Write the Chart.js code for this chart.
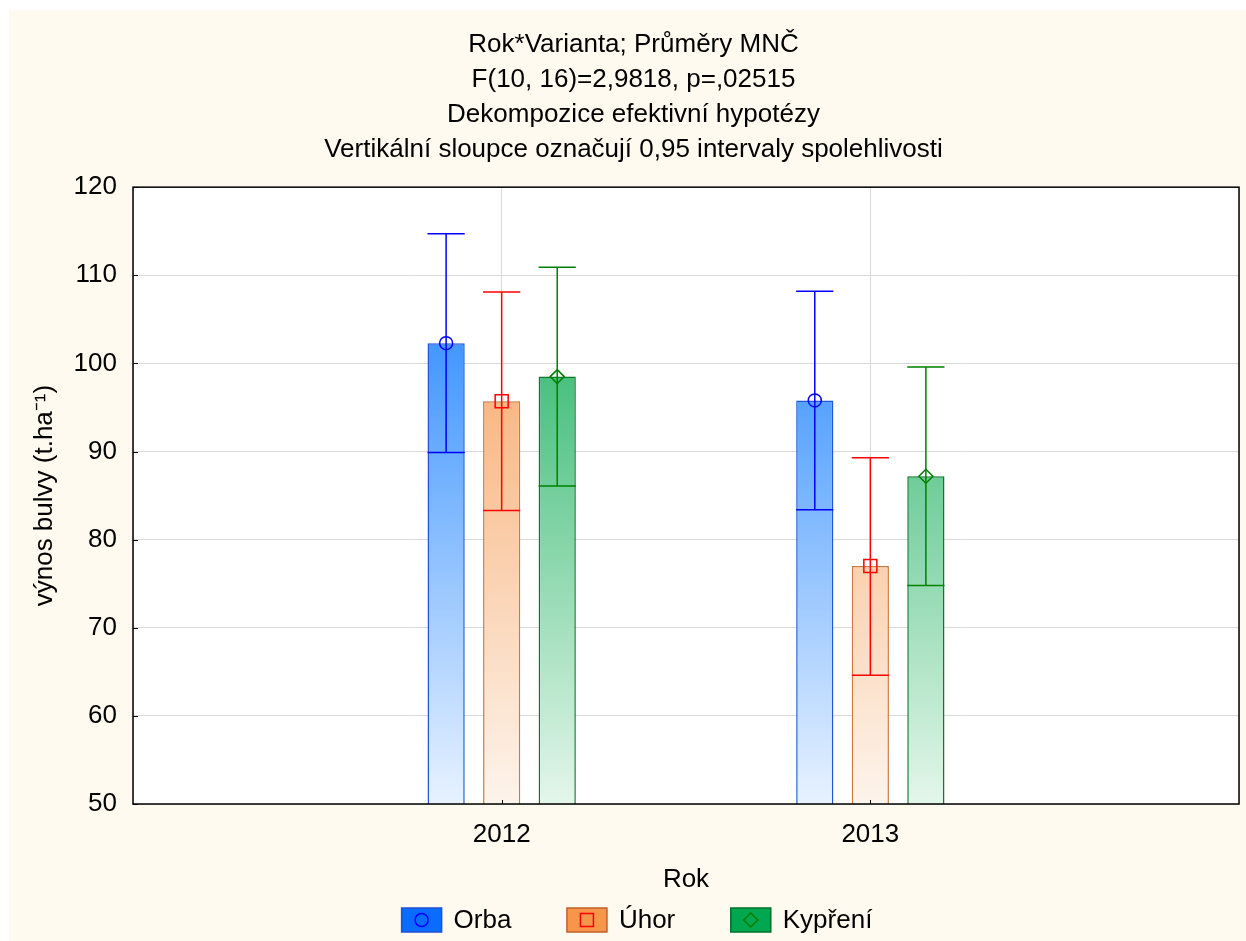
<!DOCTYPE html>
<html>
<head>
<meta charset="utf-8">
<script src="https://cdn.jsdelivr.net/npm/chart.js@4"></script>
<style>
  html, body { margin: 0; padding: 0; background: #fff; }
  #canvas1 { position: absolute; left: 9px; top: 10px; }
</style>
</head>
<body>
<canvas id="canvas1" width="1237" height="931"></canvas>
<script>
// ---------------- data ----------------
var years = ["2012", "2013"];

var orbaMean = [102.3, 95.8];
var orbaLow = [89.9, 83.4];
var orbaHigh = [114.7, 108.2];

var uhorMean = [95.7, 77.0];
var uhorLow = [83.3, 64.6];
var uhorHigh = [108.1, 89.3];

var kypMean = [98.5, 87.2];
var kypLow = [86.1, 74.8];
var kypHigh = [110.9, 99.6];

var yTicks = { min: 50, max: 120, step: 10 };

var titleLines = [
  "Rok*Varianta; Průměry MNČ",
  "F(10, 16)=2,9818, p=,02515",
  "Dekompozice efektivní hypotézy",
  "Vertikální sloupce označují 0,95 intervaly spolehlivosti",
];
// ---------------------------------------

Chart.defaults.font.family = '"Liberation Sans", Arial, sans-serif';
Chart.defaults.color = "#000";

// empty slot on each side so the two years sit at 1/3 and 2/3 of the axis
var labels = [""].concat(years, [""]);
function pad(arr) {
  return [null].concat(arr, [null]);
}

function vGrad(top, bottom) {
  return function (c) {
    var a = c.chart.chartArea;
    if (!a) return top;
    var g = c.chart.ctx.createLinearGradient(0, a.top, 0, a.bottom);
    g.addColorStop(0, top);
    g.addColorStop(1, bottom);
    return g;
  };
}

function drawMarker(ctx, style, x, y, color) {
  ctx.save();
  ctx.strokeStyle = color;
  ctx.lineWidth = 1.5;
  ctx.beginPath();
  if (style === "circle") {
    ctx.arc(x, y, 6.5, 0, Math.PI * 2);
  } else if (style === "rect") {
    ctx.rect(x - 6.5, y - 6.5, 13, 13);
  } else {
    ctx.moveTo(x, y - 7);
    ctx.lineTo(x + 7, y);
    ctx.lineTo(x, y + 7);
    ctx.lineTo(x - 7, y);
    ctx.closePath();
  }
  ctx.stroke();
  ctx.restore();
}

var background = {
  id: "background",
  beforeDraw(chart) {
    var ctx = chart.ctx, a = chart.chartArea;
    ctx.save();
    ctx.fillStyle = "#fffaf0";
    ctx.fillRect(0, 0, chart.width, chart.height);
    ctx.fillStyle = "#ffffff";
    ctx.fillRect(a.left, a.top, a.right - a.left, a.bottom - a.top);
    ctx.restore();
  },
};

var errorBars = {
  id: "errorBars",
  afterDatasetsDraw(chart) {
    var ctx = chart.ctx, yScale = chart.scales.y;
    ctx.save();
    chart.data.datasets.forEach((ds, i) => {
      chart.getDatasetMeta(i).data.forEach((bar, j) => {
        if (ds.data[j] == null) return;
        var yLo = yScale.getPixelForValue(ds.low[j]);
        var yHi = yScale.getPixelForValue(ds.high[j]);
        var half = bar.width / 2;
        ctx.strokeStyle = ds.errColor;
        ctx.lineWidth = 1.5;
        ctx.beginPath();
        ctx.moveTo(bar.x, yLo);
        ctx.lineTo(bar.x, yHi);
        ctx.moveTo(bar.x - half, yLo);
        ctx.lineTo(bar.x + half, yLo);
        ctx.moveTo(bar.x - half, yHi);
        ctx.lineTo(bar.x + half, yHi);
        ctx.stroke();
        drawMarker(ctx, ds.marker, bar.x, bar.y, ds.errColor);
      });
    });
    ctx.restore();
  },
};

var frame = {
  id: "frame",
  afterDraw(chart) {
    var ctx = chart.ctx, a = chart.chartArea;
    var xs = chart.scales.x, ys = chart.scales.y;
    ctx.save();
    ctx.strokeStyle = "#000";
    ctx.lineWidth = 1.5;
    ctx.strokeRect(a.left, a.top, a.right - a.left, a.bottom - a.top);
    // inward tick marks
    ctx.lineWidth = 1;
    ctx.beginPath();
    ys.ticks.forEach((t) => {
      var py = Math.round(ys.getPixelForValue(t.value)) + 0.5;
      ctx.moveTo(a.left, py);
      ctx.lineTo(a.left + 5, py);
    });
    for (var i = 1; i <= years.length; i++) {
      var px = Math.round(xs.getPixelForValue(i)) + 0.5;
      ctx.moveTo(px, a.bottom);
      ctx.lineTo(px, a.bottom - 4);
    }
    ctx.stroke();
    ctx.restore();
  },
};

var legendBox = {
  id: "legendBox",
  afterDraw(chart) {
    var ctx = chart.ctx;
    var items = chart.data.datasets;
    ctx.save();
    ctx.font = '26px "Liberation Sans", Arial, sans-serif';
    ctx.textBaseline = "middle";
    var widths = items.map((ds) => 40 + 12 + ctx.measureText(ds.label).width);
    var gap = 55.5;
    var total = widths.reduce((s, w) => s + w, 0) + gap * (items.length - 1);
    var x = chart.width / 2 + 9.5 - total / 2;
    var yc = chart.height - 21;
    items.forEach((ds, i) => {
      ctx.fillStyle = ds.legendFill;
      ctx.strokeStyle = ds.legendBorder;
      ctx.lineWidth = 1.5;
      ctx.fillRect(x, yc - 12, 40, 24);
      ctx.strokeRect(x, yc - 12, 40, 24);
      drawMarker(ctx, ds.marker, x + 20, yc, ds.errColor);
      ctx.fillStyle = "#000";
      ctx.fillText(ds.label, x + 52, yc + 1);
      x += widths[i] + gap;
    });
    ctx.restore();
  },
};

var data = {
  labels: labels,
  datasets: [
    {
      label: "Orba",
      data: pad(orbaMean),
      low: pad(orbaLow),
      high: pad(orbaHigh),
      backgroundColor: vGrad("rgb(10,120,255)", "rgb(232,242,255)"),
      borderColor: "#2256d8",
      borderWidth: 1.5,
      borderSkipped: false,
      errColor: "#0000ff",
      marker: "circle",
      legendFill: "#0a6cff",
      legendBorder: "#1e4fd0",
    },
    {
      label: "Úhor",
      data: pad(uhorMean),
      low: pad(uhorLow),
      high: pad(uhorHigh),
      backgroundColor: vGrad("rgb(246,152,78)", "rgb(253,244,236)"),
      borderColor: "#c97a40",
      borderWidth: 1.5,
      borderSkipped: false,
      errColor: "#ff0000",
      marker: "rect",
      legendFill: "#f7964b",
      legendBorder: "#c0602a",
    },
    {
      label: "Kypření",
      data: pad(kypMean),
      low: pad(kypLow),
      high: pad(kypHigh),
      backgroundColor: vGrad("rgb(5,168,80)", "rgb(228,246,234)"),
      borderColor: "#0a7a28",
      borderWidth: 1.5,
      borderSkipped: false,
      errColor: "#008000",
      marker: "diamond",
      legendFill: "#00a650",
      legendBorder: "#007028",
    },
  ],
};

var options = {
  animation: false,
  responsive: false,
  categoryPercentage: 0.452,
  barPercentage: 0.67,
  layout: { padding: { left: 19, right: 7, top: 0, bottom: 44 } },
  plugins: {
    legend: { display: false },
    tooltip: { enabled: false },
    title: {
      display: true,
      text: titleLines,
      color: "#000",
      font: { size: 26, weight: "normal", lineHeight: 1.34 },
      padding: { top: 17.6, bottom: 20.2 },
    },
  },
  scales: {
    x: {
      offset: false,
      grid: { color: "#d9d9d9", drawTicks: true, tickLength: 15, tickColor: "rgba(0,0,0,0)", offset: false },
      border: { display: false },
      ticks: { padding: 0, font: { size: 26 }, maxRotation: 0, autoSkip: false },
      title: { display: true, text: "Rok", font: { size: 26 }, padding: { top: 0, bottom: 1.4 } },
      afterFit: (s) => { s.height = 93; },
    },
    y: {
      min: yTicks.min,
      max: yTicks.max,
      grid: { color: "#d9d9d9", drawTicks: false },
      border: { display: false },
      ticks: { stepSize: yTicks.step, padding: 16, font: { size: 26 } },
      title: { display: true, text: "výnos bulvy (t.ha⁻¹)", font: { size: 26 }, padding: { top: 1.4, bottom: 0 } },
      afterFit: (s) => { s.width = 105; },
    },
  },
};

var config = {
  type: "bar",
  data: data,
  options: options,
  plugins: [background, errorBars, frame, legendBox],
};
var chart = new Chart(document.getElementById("canvas1"), config);
</script>
</body>
</html>
